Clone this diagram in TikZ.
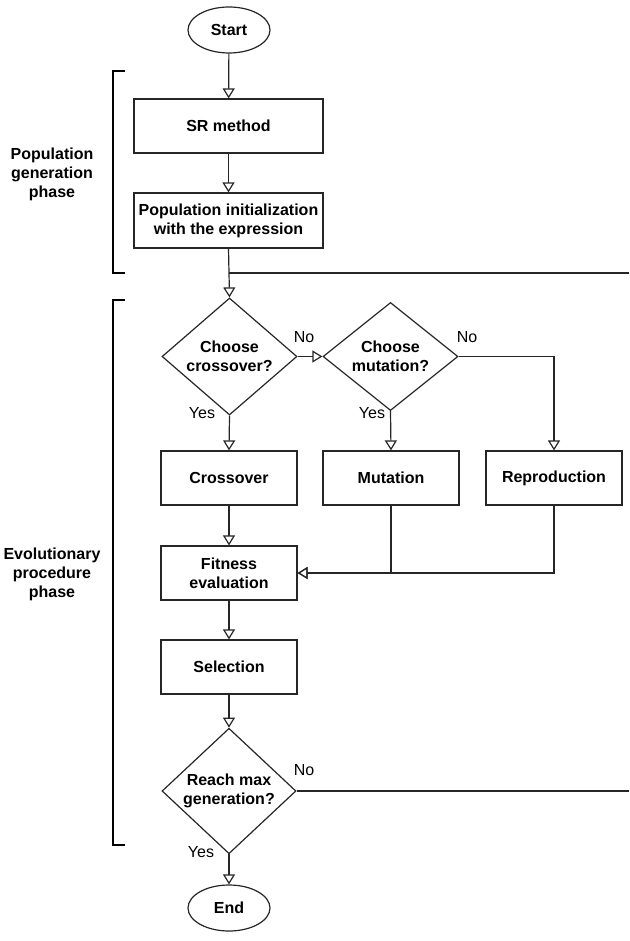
\documentclass[tikz,border=0pt]{standalone}
\usepackage{fontspec}
\setmainfont{Liberation Sans}
\usetikzlibrary{shapes.geometric,arrows.meta}
\begin{document}
\begin{tikzpicture}[x=1pt,y=-1pt,
  txt/.style={font=\fontsize{16}{19}\selectfont\bfseries, align=center},
  proc/.style={txt, draw=black!85, line width=1.2pt, inner sep=0pt, minimum width=136pt, minimum height=54pt},
  term/.style={txt, draw=black!85, line width=1.2pt, ellipse, inner sep=0pt, minimum width=82pt, minimum height=46pt},
  dec/.style={txt, draw=black!85, line width=1.2pt, diamond, inner sep=0pt, minimum width=135pt, minimum height=107pt},
  lab/.style={font=\fontsize{16}{19}\selectfont, inner sep=0pt},
  side/.style={txt, inner sep=0pt},
  arr/.style={draw=black!85, line width=1.2pt, -{Triangle[open,length=10pt,width=12pt]}},
  ln/.style={draw=black!85, line width=1.2pt},
  brk/.style={draw=black, line width=2.4pt}
]
\useasboundingbox (0,0) rectangle (629,941);

% nodes
\node[term] (start) at (229,30) {Start};
\node[proc, minimum width=189pt] (sr) at (228.5,126) {SR method};
\node[proc, minimum width=189pt, minimum height=55pt] (init) at (228.5,220.5) {Population initialization\\with the expression};
\node[dec] (dcross) at (229.5,356.5) {Choose\\crossover?};
\node[dec] (dmut) at (390.5,356.5) {Choose\\mutation?};
\node[proc] (cross) at (229,478) {Crossover};
\node[proc] (mut) at (391,478) {Mutation};
\node[proc] (rep) at (554,478) {Reproduction};
\node[proc] (fit) at (229,573) {Fitness\\evaluation};
\node[proc] (sel) at (229,667) {Selection};
\node[dec, minimum width=134pt, minimum height=108pt] (dmax) at (229,791) {Reach max\\generation?};
\node[term] (end) at (229,908) {End};

% side labels
\node[side] (lpop) at (52,174) {Population\\generation\\phase};
\node[side] (levo) at (52,574) {Evolutionary\\procedure\\phase};

% brackets
\draw[brk] (125,71) -- (113,71) -- (113,273) -- (125,273);
\draw[brk] (125,300) -- (113,300) -- (113,845) -- (125,845);

% coordinates at right edge
\coordinate (re1) at (629,273);
\coordinate (re2) at (629,791);
\coordinate (j1) at (init.south |- re1);

% connectors
\draw[arr] (start) -- (sr);
\draw[arr] (sr) -- (init);
\draw[arr] (init.south) -- (dcross.north);
\draw[ln] (j1) -- (re1);
\draw[arr] (dcross.east) -- (dmut.west);
\draw[arr] (dmut.east) -| (rep.north);
\draw[arr] (dcross.south) -- (cross.north);
\draw[arr] (dmut.south) -- (mut.north);
\draw[arr] (cross) -- (fit);
\draw[arr] (mut.south) |- (fit.east);
\draw[arr] (rep.south) |- (fit.east);
\draw[arr] (fit) -- (sel);
\draw[arr] (sel.south) -- (dmax.north);
\draw[ln] (dmax.east) -- (re2);
\draw[arr] (dmax.south) -- (end.north);

% branch labels
\node[lab] (no1) at (304,337) {No};
\node[lab] (no2) at (467,337) {No};
\node[lab] (yes1) at (202,413) {Yes};
\node[lab] (yes2) at (372,413) {Yes};
\node[lab] (no3) at (304,770) {No};
\node[lab] (yes3) at (201,852) {Yes};
\end{tikzpicture}
\end{document}
